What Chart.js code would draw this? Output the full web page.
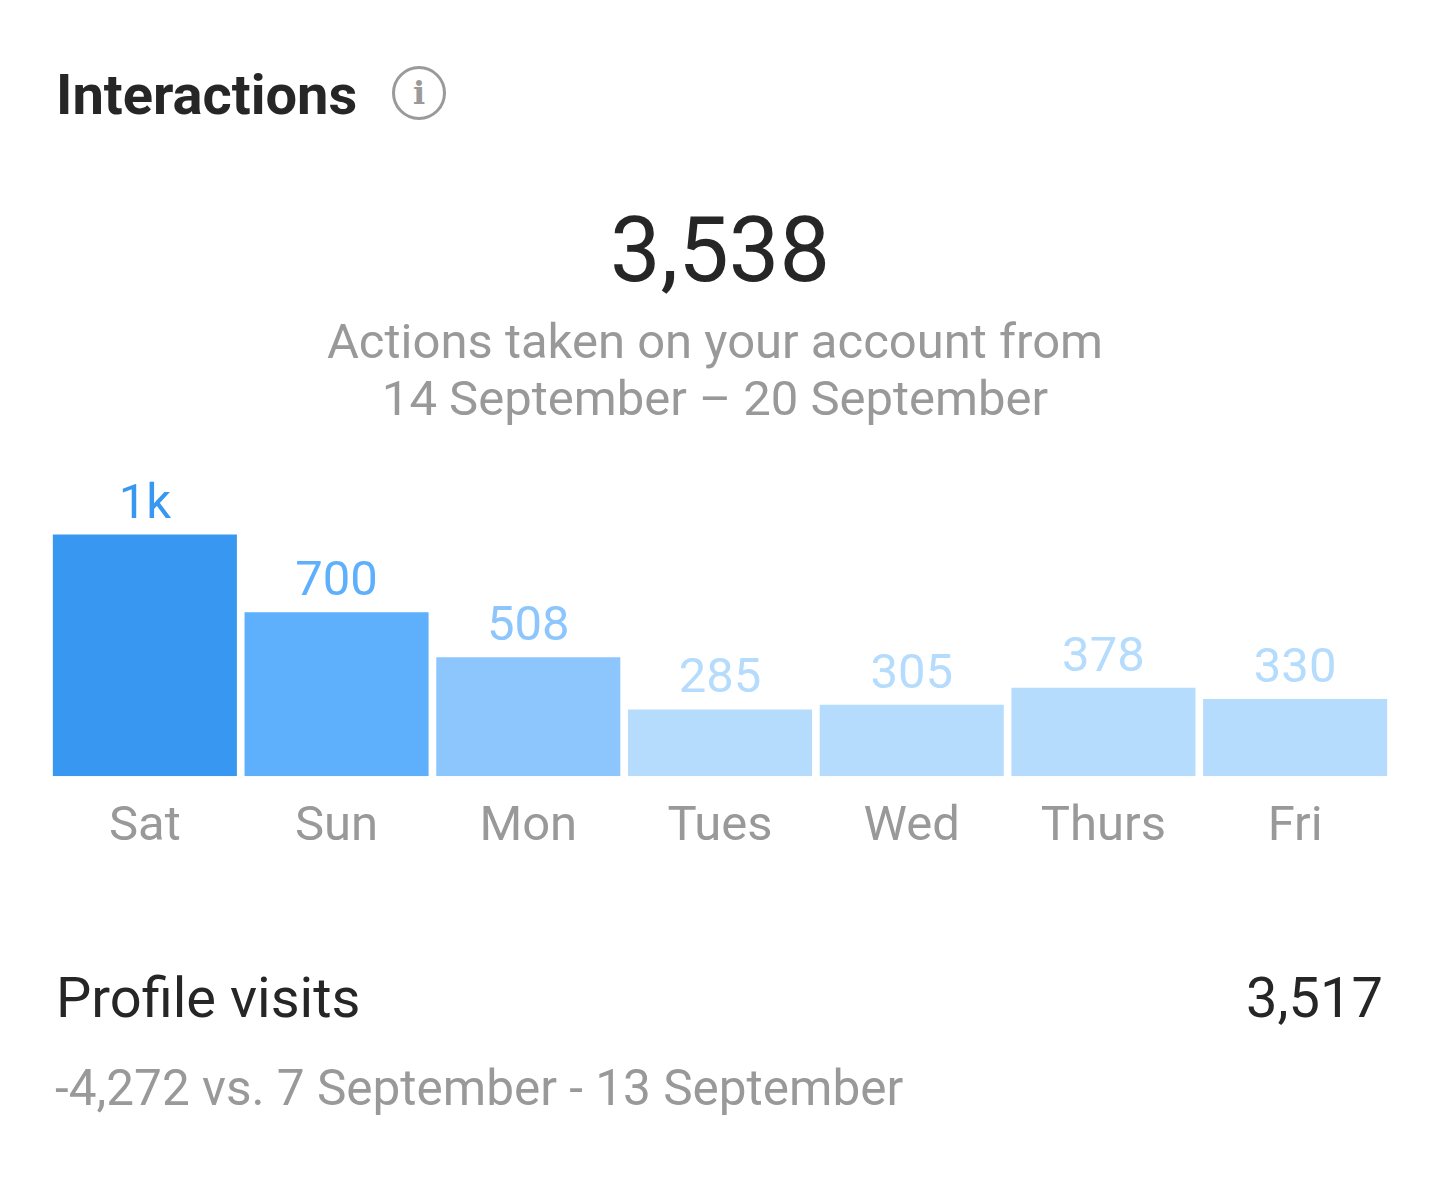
<!DOCTYPE html>
<html>
<head>
<meta charset="utf-8">
<script src="https://cdn.jsdelivr.net/npm/chart.js@4/dist/chart.umd.min.js"></script>
<style>
  html, body { margin: 0; padding: 0; background: #fff; }
  body { width: 1440px; height: 1202px; position: relative; overflow: hidden; font-family: Roboto, sans-serif; }
  .txt { position: absolute; white-space: nowrap; line-height: 1; }
  #title { left: 56px; top: 67px; font-size: 56px; font-weight: 700; color: #262626; }
  #info { position: absolute; left: 392px; top: 66px; width: 48px; height: 48px; border: 3px solid #9a9a9a; border-radius: 50%;
          color: #9a9a9a; font-family: "DejaVu Serif", serif; font-weight: 700; font-size: 32px; text-align: center; line-height: 48px; }
  #total { left: 0; width: 1440px; text-align: center; top: 206px; font-size: 90px; color: #262626; }
  #sub { left: -5px; width: 1440px; text-align: center; top: 313px; font-size: 49px; line-height: 57px; color: #999; white-space: normal; }
  #chartBox { position: absolute; left: 0; top: 440px; width: 1440px; height: 463px; }
  #pvLabel { left: 56px; top: 970px; font-size: 56px; color: #262626; }
  #pvValue { right: 57px; top: 970px; font-size: 56px; color: #262626; }
  #pvDiff { left: 55px; top: 1064px; font-size: 49.5px; color: #999; }
</style>
</head>
<body>
<div class="txt" id="title">Interactions</div>
<div id="info">i</div>
<div class="txt" id="total">3,538</div>
<div class="txt" id="sub">Actions taken on your account from<br>14 September – 20 September</div>
<div id="chartBox"><canvas id="myChart"></canvas></div>
<div class="txt" id="pvLabel">Profile visits</div>
<div class="txt" id="pvValue">3,517</div>
<div class="txt" id="pvDiff">-4,272 vs. 7 September - 13 September</div>

<script>
'use strict';

// chart data
let days = ['Sat', 'Sun', 'Mon', 'Tues', 'Wed', 'Thurs', 'Fri'];
let interactions = [1032, 700, 508, 285, 305, 378, 330];
let valueLabels = ['1k', '700', '508', '285', '305', '378', '330'];
let barColors = ['#3897f0', '#5eb0fd', '#8cc6fd', '#b5dbfd', '#b5dbfd', '#b5dbfd', '#b5dbfd'];

// draws the number above each bar
let barLabelPlugin = {
  id: 'barLabels',
  afterDatasetsDraw(chart) {
    let ctx = chart.ctx;
    let bars = chart.getDatasetMeta(0).data;
    ctx.save();
    ctx.font = '49px Roboto';
    ctx.textAlign = 'center';
    ctx.textBaseline = 'alphabetic';
    for (let i = 0; i < bars.length; i++) {
      ctx.fillStyle = barColors[i];
      ctx.fillText(valueLabels[i], bars[i].x, bars[i].y - 17);
    }
    ctx.restore();
  }
};

let ctx = document.getElementById('myChart').getContext('2d');
let myChart = new Chart(ctx, {
  type: 'bar',
  data: {
    labels: days,
    datasets: [{
      data: interactions,
      backgroundColor: barColors,
      borderWidth: 0,
      categoryPercentage: 1,
      barPercentage: 0.96
    }]
  },
  options: {
    responsive: true,
    maintainAspectRatio: false,
    animation: false,
    layout: { padding: { left: 49, right: 49, top: 36, bottom: 24 } },
    plugins: { legend: { display: false }, tooltip: { enabled: false } },
    scales: {
      y: { display: false, min: 0, max: 1282 },
      x: {
        grid: { display: false, drawTicks: false },
        border: { display: false },
        ticks: { color: '#999', padding: 22, font: { family: 'Roboto', size: 49 } }
      }
    }
  },
  plugins: [barLabelPlugin]
});
</script>
</body>
</html>
